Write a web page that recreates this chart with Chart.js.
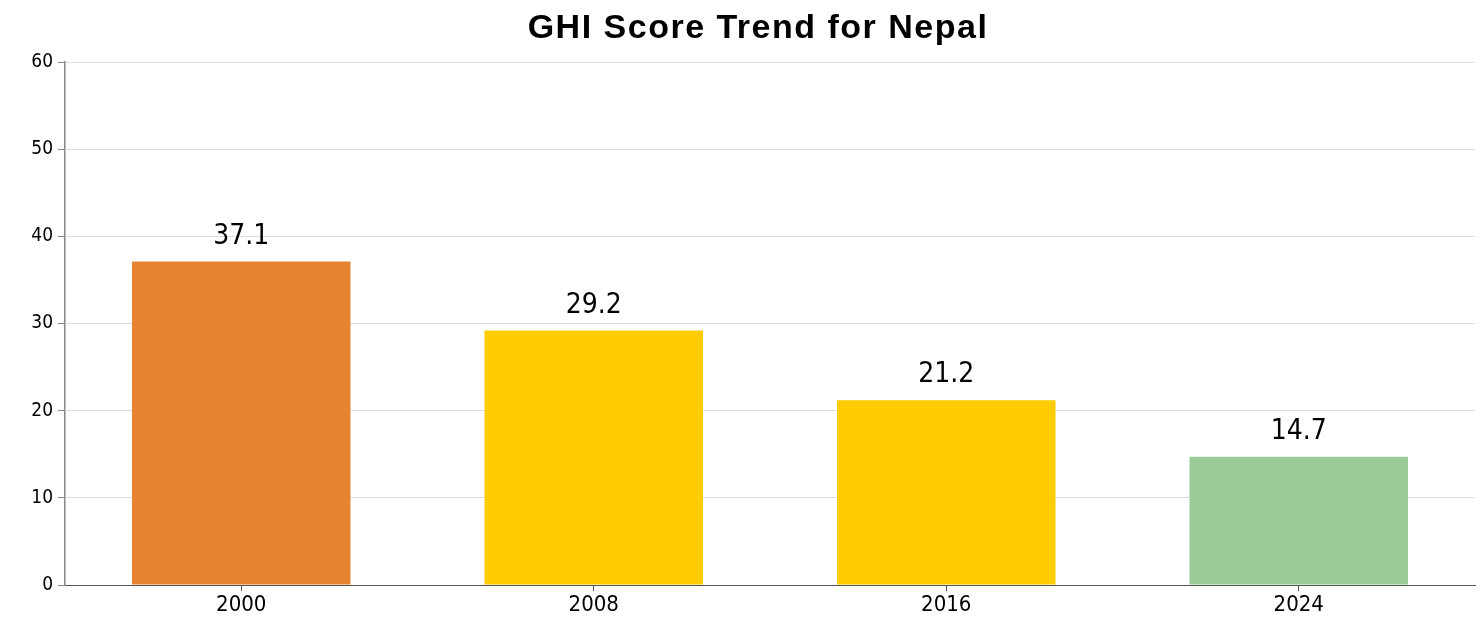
<!DOCTYPE html>
<html>
<head>
<meta charset="utf-8">
<script src="https://cdn.jsdelivr.net/npm/chart.js@4/dist/chart.umd.min.js"></script>
<style>
  html, body { margin: 0; padding: 0; background: #fff; }
  #wrap { width: 1481px; height: 620px; }
</style>
</head>
<body>
<div id="wrap"><canvas id="chartGhi"></canvas></div>
<script>
// ─── Dados ───────────────────────────────────────────
const TITULO = 'GHI Score Trend for Nepal';
const ANOS   = ['2000', '2008', '2016', '2024'];
const SCORES = [37.1, 29.2, 21.2, 14.7];
const CORES_BARRAS = ['#E8842F', '#FFCC00', '#FFCC00', '#99CC99'];
const Y_TICKS = [0, 10, 20, 30, 40, 50, 60];

const FONTE_COND = "'DejaVu Sans Condensed', 'DejaVu Sans'";

// ─── Título (com espaçamento entre letras) ───────────
const tituloEspacado = {
  id: 'tituloEspacado',
  afterDraw(chart) {
    const { ctx } = chart;
    ctx.save();
    ctx.font = 'bold 34px "Liberation Sans", Arial, sans-serif';
    ctx.letterSpacing = '1.5px';
    ctx.fillStyle = '#000';
    ctx.textAlign = 'center';
    ctx.textBaseline = 'alphabetic';
    ctx.fillText(TITULO, 758, 38);
    ctx.restore();
  },
};

// ─── Rótulos sobre as barras ─────────────────────────
const rotulosValor = {
  id: 'rotulosValor',
  afterDatasetsDraw(chart) {
    const { ctx } = chart;
    const meta = chart.getDatasetMeta(0);
    ctx.save();
    ctx.font = `28px ${FONTE_COND}`;
    ctx.fillStyle = '#000';
    ctx.textAlign = 'center';
    ctx.textBaseline = 'middle';
    meta.data.forEach((bar, i) => {
      ctx.fillText(SCORES[i].toFixed(1), bar.x, bar.y - 25);
    });
    ctx.restore();
  },
};

const ctx = document.getElementById('chartGhi').getContext('2d');

new Chart(ctx, {
  type: 'bar',
  data: {
    labels: ANOS,
    datasets: [{
      data: SCORES,
      backgroundColor: CORES_BARRAS,
      borderWidth: 0,
      categoryPercentage: 0.62,
      barPercentage: 1,
    }],
  },
  options: {
    responsive: true,
    maintainAspectRatio: false,
    animation: false,
    layout: { padding: { top: 62, right: 6, bottom: 0, left: 0 } },
    plugins: {
      legend: { display: false },
      tooltip: { enabled: false },
      title: { display: false },
    },
    scales: {
      x: {
        grid: { display: true, drawOnChartArea: false, offset: false, color: '#555', tickLength: 6 },
        border: { color: '#555', width: 1 },
        ticks: { color: '#000', font: { family: FONTE_COND, size: 22 }, padding: 1 },
        afterFit: s => { s.height = 35; },
      },
      y: {
        min: 0,
        max: 60,
        afterBuildTicks: s => { s.ticks = Y_TICKS.map(v => ({ value: v })); },
        grid: { color: '#dcdcdc', tickLength: 7, tickColor: '#888' },
        border: { color: '#888', width: 1.5 },
        ticks: { color: '#000', font: { family: FONTE_COND, size: 19 }, padding: 5 },
        afterFit: s => { s.width = 65; },
      },
    },
  },
  plugins: [rotulosValor, tituloEspacado],
});
</script>
</body>
</html>
